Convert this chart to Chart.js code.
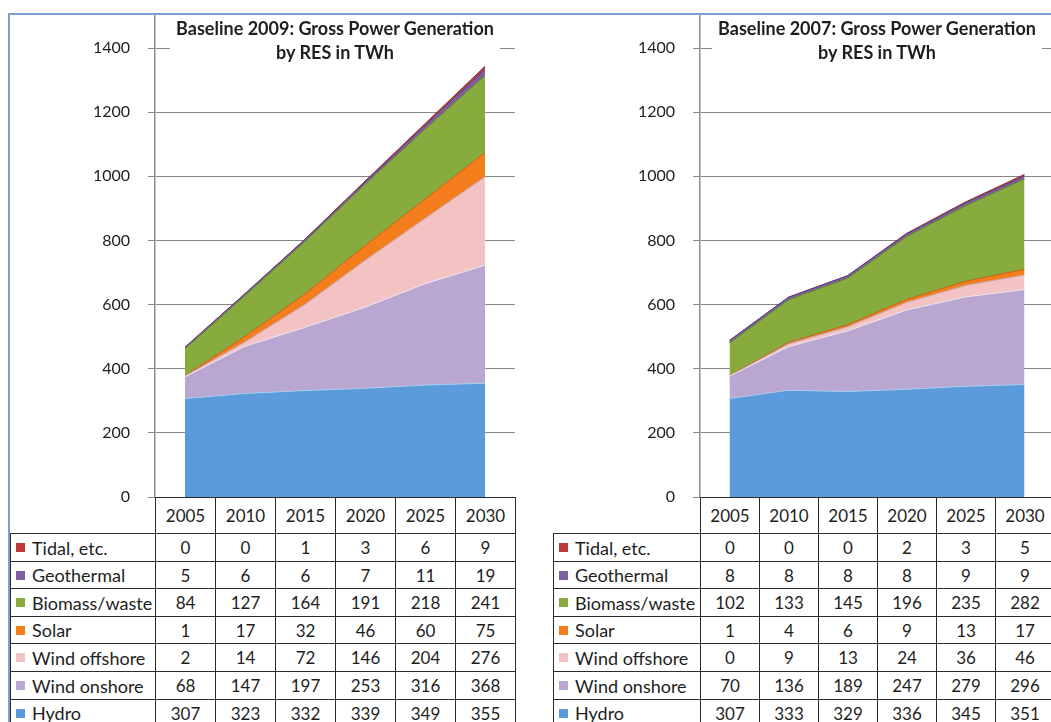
<!DOCTYPE html>
<html>
<head>
<meta charset="utf-8">
<script src="https://cdn.jsdelivr.net/npm/chart.js@4.4.1/dist/chart.umd.min.js"></script>
<style>
  html, body { margin: 0; padding: 0; }
  body { width: 1051px; height: 722px; overflow: hidden; position: relative; background: #fff; font-family: Lato, "Open Sans", sans-serif; color: #1e1e1e; }
  .frame { position: absolute; left: 8px; top: 13px; width: 1100px; height: 800px; border-top: 2px solid #79a0d6; border-left: 2px solid #79a0d6; }
  canvas { position: absolute; }
  .title { position: absolute; background: #fff; text-align: center; font-weight: 700; font-size: 18px; line-height: 24px; color: #1e1e1e; }
  .cell { position: absolute; box-sizing: border-box; border: 1px solid #2b2b2b; font-size: 17px; display: flex; align-items: center; justify-content: center; white-space: nowrap; background: #fff; }
  .cell.label { justify-content: flex-start; font-size: 18px; }
  .key { display: inline-block; flex-shrink: 0; width: 9px; height: 9px; margin: 0 7px 0 5px; }
</style>
</head>
<body>
<div class="frame"></div>
<canvas id="chart-2009" width="460" height="505" style="left:60px;top:4px"></canvas>
<canvas id="chart-2007" width="454" height="505" style="left:605px;top:4px"></canvas>
<script>
const YEARS = ['2005', '2010', '2015', '2020', '2025', '2030'];
const SERIES_NAMES = ['Hydro', 'Wind onshore', 'Wind offshore', 'Solar', 'Biomass/waste', 'Geothermal', 'Tidal, etc.'];
const Y_TICKS = [0, 200, 400, 600, 800, 1000, 1200, 1400];
const Y_MAX = 1500;

// Baseline 2009
const HYDRO_2009 = [307, 323, 332, 339, 349, 355];
const WIND_ONSHORE_2009 = [68, 147, 197, 253, 316, 368];
const WIND_OFFSHORE_2009 = [2, 14, 72, 146, 204, 276];
const SOLAR_2009 = [1, 17, 32, 46, 60, 75];
const BIOMASS_2009 = [84, 127, 164, 191, 218, 241];
const GEOTHERMAL_2009 = [5, 6, 6, 7, 11, 19];
const TIDAL_2009 = [0, 0, 1, 3, 6, 9];

// Baseline 2007
const HYDRO_2007 = [307, 333, 329, 336, 345, 351];
const WIND_ONSHORE_2007 = [70, 136, 189, 247, 279, 296];
const WIND_OFFSHORE_2007 = [0, 9, 13, 24, 36, 46];
const SOLAR_2007 = [1, 4, 6, 9, 13, 17];
const BIOMASS_2007 = [102, 133, 145, 196, 235, 282];
const GEOTHERMAL_2007 = [8, 8, 8, 8, 9, 9];
const TIDAL_2007 = [0, 0, 0, 2, 3, 5];

const TITLE_2009 = ['Baseline 2009: Gross Power Generation', 'by RES in TWh'];
const TITLE_2007 = ['Baseline 2007: Gross Power Generation', 'by RES in TWh'];

const FILL_COLORS = ['#5b9bdc', '#b9a7d1', '#f2c3c2', '#f47d1c', '#87ac3d', '#7c5fa1', '#bf3b3b'];
const EDGE_COLORS = ['#a8cbee', '#ece4f3', '#c99a9a', '#c55f12', '#5f7f2a', '#5b3f80', '#8c2b2b'];

const CANVAS_TOP = 4;
const HEADER_H = 36;
const ROW_H = 27.6;

const PANELS = [
  {
    id: 'chart-2009',
    title: TITLE_2009,
    values: [HYDRO_2009, WIND_ONSHORE_2009, WIND_OFFSHORE_2009, SOLAR_2009, BIOMASS_2009, GEOTHERMAL_2009, TIDAL_2009],
    canvasLeft: 60,
    labelLeft: 10
  },
  {
    id: 'chart-2007',
    title: TITLE_2007,
    values: [HYDRO_2007, WIND_ONSHORE_2007, WIND_OFFSHORE_2007, SOLAR_2007, BIOMASS_2007, GEOTHERMAL_2007, TIDAL_2007],
    canvasLeft: 605,
    labelLeft: 553
  }
];

const makeChart = (panel) => {
  return new Chart(document.getElementById(panel.id), {
    type: 'line',
    data: {
      labels: YEARS,
      datasets: SERIES_NAMES.map((name, i) => ({
        label: name,
        data: panel.values[i],
        backgroundColor: FILL_COLORS[i],
        borderColor: EDGE_COLORS[i],
        borderWidth: 1,
        pointRadius: 0,
        tension: 0,
        fill: i === 0 ? 'origin' : '-1'
      }))
    },
    options: {
      responsive: false,
      animation: false,
      events: [],
      layout: { padding: { top: 12, bottom: 12, left: 0, right: 5 } },
      plugins: { legend: { display: false }, tooltip: { enabled: false } },
      scales: {
        x: { display: false, offset: true },
        y: {
          stacked: true,
          min: 0,
          max: Y_MAX,
          afterFit: (scale) => {
            scale.width = 95;
            // keep the plot area where the layout padding puts it
            scale.paddingTop = 0;
            scale.paddingBottom = 0;
          },
          afterBuildTicks: (scale) => { scale.ticks = Y_TICKS.map(v => ({ value: v })); },
          grid: { color: '#878787', lineWidth: 1, tickLength: 7 },
          border: { display: true, color: '#8c8c8c', width: 1.5 },
          ticks: {
            padding: 18,
            color: '#1e1e1e',
            font: { family: 'Lato', size: 16 },
            callback: (v) => String(v)
          }
        }
      }
    }
  });
};

const addCell = (x0, x1, y0, y1, cls) => {
  const el = document.createElement('div');
  el.className = cls;
  el.style.left = `${x0}px`;
  el.style.top = `${y0}px`;
  el.style.width = `${x1 - x0 + 1}px`;
  el.style.height = `${y1 - y0 + 1}px`;
  document.body.appendChild(el);
  return el;
};

const buildTitle = (chart, panel) => {
  const area = chart.chartArea;
  const center = panel.canvasLeft + (area.left + area.right) / 2;
  const el = document.createElement('div');
  el.className = 'title';
  el.style.left = `${Math.round(center - 165)}px`;
  el.style.width = '330px';
  el.style.top = `${CANVAS_TOP + area.top}px`;
  el.style.height = '46px';
  el.innerHTML = panel.title.join('<br>');
  document.body.appendChild(el);
};

const buildTable = (chart, panel) => {
  const area = chart.chartArea;
  const band = (area.right - area.left) / YEARS.length;
  const colX = (j) => Math.round(panel.canvasLeft + area.left + j * band);
  const top = Math.round(CANVAS_TOP + area.bottom);
  const rowY = (r) => Math.round(top + HEADER_H + r * ROW_H);

  YEARS.forEach((year, j) => {
    addCell(colX(j), colX(j + 1), top, rowY(0), 'cell').textContent = year;
  });

  // table rows run top to bottom, opposite to the stacking order
  const order = SERIES_NAMES.map((_, i) => i).reverse();
  order.forEach((s, r) => {
    const label = addCell(panel.labelLeft, colX(0), rowY(r), rowY(r + 1), 'cell label');
    label.innerHTML = `<span class="key" style="background:${FILL_COLORS[s]}"></span>${SERIES_NAMES[s]}`;
    panel.values[s].forEach((v, j) => {
      addCell(colX(j), colX(j + 1), rowY(r), rowY(r + 1), 'cell').textContent = v;
    });
  });
};

for (const panel of PANELS) {
  const chart = makeChart(panel);
  buildTitle(chart, panel);
  buildTable(chart, panel);
}
</script>
</body>
</html>
